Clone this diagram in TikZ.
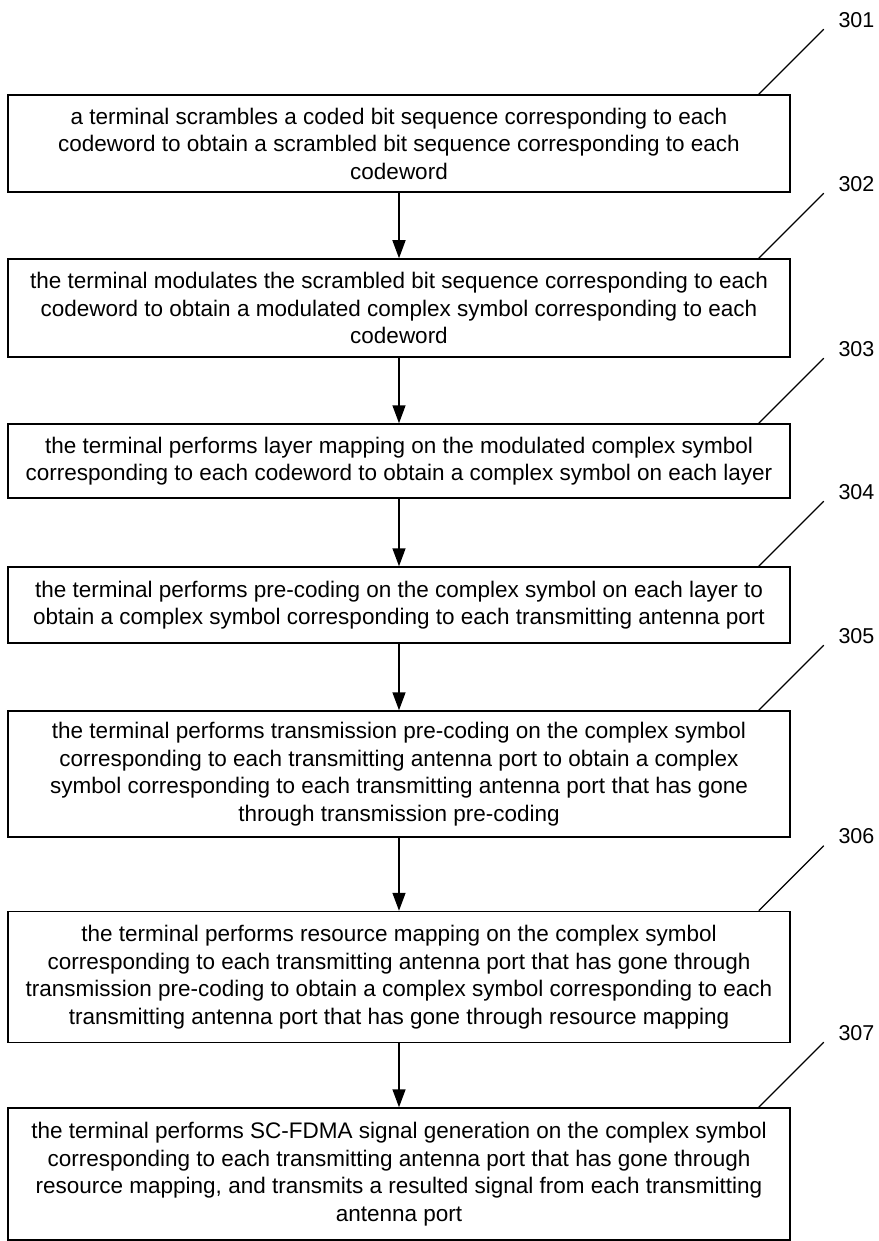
\documentclass[tikz,border=0pt]{standalone}
\usepackage{fontspec}
\setmainfont{Liberation Sans}
\usetikzlibrary{arrows.meta}
\def\boxwidth{782pt}

\begin{document}
\begin{tikzpicture}[x=1pt,y=-1pt,line width=1.5pt]
    \tikzstyle{stepbox}=[draw,rectangle,minimum width=\boxwidth,inner sep=0pt,align=center,
        font=\fontsize{22.5}{27.5}\selectfont]
    \tikzstyle{num}=[anchor=south west,inner xsep=14pt,inner ysep=1pt,
        font=\fontsize{21.5}{24}\selectfont]
    \tikzstyle{flow}=[-{Triangle[length=18pt,width=13pt]}]

    \useasboundingbox (0,0) rectangle (878,1241);

    % Draw the step boxes
    \node[stepbox,minimum height=97pt] (b1) at (399,143.5)
        {a terminal scrambles a coded bit sequence corresponding to each\\
         codeword to obtain a scrambled bit sequence corresponding to each\\
         codeword};
    \node[stepbox,minimum height=98pt] (b2) at (399,308)
        {the terminal modulates the scrambled bit sequence corresponding to each\\
         codeword to obtain a modulated complex symbol corresponding to each\\
         codeword};
    \node[stepbox,minimum height=74pt] (b3) at (399,461)
        {the terminal performs layer mapping on the modulated complex symbol\\
         corresponding to each codeword to obtain a complex symbol on each layer};
    \node[stepbox,minimum height=76pt] (b4) at (399,605)
        {the terminal performs pre-coding on the complex symbol on each layer to\\
         obtain a complex symbol corresponding to each transmitting antenna port};
    \node[stepbox,minimum height=126pt] (b5) at (399,774)
        {the terminal performs transmission pre-coding on the complex symbol\\
         corresponding to each transmitting antenna port to obtain a complex\\
         symbol corresponding to each transmitting antenna port that has gone\\
         through transmission pre-coding};
    \node[stepbox,minimum height=131pt] (b6) at (399,977)
        {the terminal performs resource mapping on the complex symbol\\
         corresponding to each transmitting antenna port that has gone through\\
         transmission pre-coding to obtain a complex symbol corresponding to each\\
         transmitting antenna port that has gone through resource mapping};
    \node[stepbox,minimum height=132pt] (b7) at (399,1174)
        {the terminal performs SC-FDMA signal generation on the complex symbol\\
         corresponding to each transmitting antenna port that has gone through\\
         resource mapping, and transmits a resulted signal from each transmitting\\
         antenna port};

    % Connect each step to the next one
    \foreach \source/\dest in {1/2,2/3,3/4,4/5,5/6,6/7}
        \draw[flow] (b\source) -- (b\dest);

    % Reference numerals with their leader lines
    \foreach \i in {1,...,7}
    {
        \node[num] (n\i) at ([shift={(33pt,65pt)}]b\i.north east) {30\i};
        \draw[line width=1.2pt] ([xshift=-32pt]b\i.north east) -- (n\i.south west);
    }
\end{tikzpicture}
\end{document}
